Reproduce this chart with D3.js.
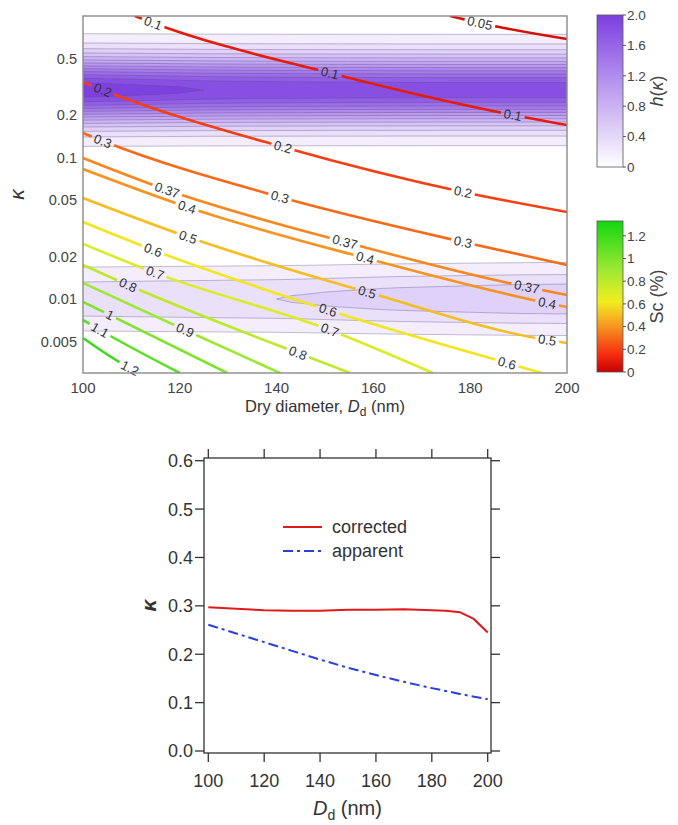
<!DOCTYPE html>
<html><head><meta charset="utf-8">
<script src="https://cdn.jsdelivr.net/npm/d3@7"></script>
<style>body{margin:0;background:#fff} svg{display:block;font-family:"Liberation Sans",Arial,sans-serif}</style>
</head><body><svg id="c" width="678" height="825"></svg>
<script>
// ---------------- DATA ----------------
// Sc contour levels (%) and their lines, [Dd (nm), kappa]
const scLevels = [0.05,0.1,0.2,0.3,0.37,0.4,0.5,0.6,0.7,0.8,0.9,1,1.1,1.2];
const scLabels = ["0.05","0.1","0.2","0.3","0.37","0.4","0.5","0.6","0.7","0.8","0.9","1","1.1","1.2"];
const sc_005 = [[175.8,1.0],[182.0,0.892],[200,0.688]];
const sc_01  = [[110.7,1.0],[114.5,0.892],[151.0,0.3956],[188.8,0.1998],[200,0.1697]];
const sc_02  = [[100,0.3417],[104.1,0.2999],[141.3,0.1187],[178.5,0.0571],[200,0.0412]];
const sc_03  = [[100,0.1490],[104.1,0.1308],[140.7,0.0526],[178.5,0.0253],[200,0.0174]];
const sc_037 = [[100,0.0992],[117.4,0.0589],[154.1,0.0253],[191.7,0.01216],[200,0.01067]];
const sc_04  = [[100,0.0829],[121.5,0.0447],[158.3,0.0195],[195.9,0.00937],[200,0.00878]];
const sc_05  = [[100,0.0517],[121.7,0.0274],[158.7,0.0112],[195.9,0.00513],[200,0.00489]];
const sc_06  = [[100,0.0350],[114.5,0.0222],[150.6,0.00836],[187.6,0.00353],[194.8,0.0030]];
const sc_07  = [[100,0.0245],[114.9,0.0153],[151.0,0.00604],[172.3,0.0030]];
const sc_08  = [[100,0.0174],[109.3,0.01256],[144.4,0.00415],[155.2,0.0030]];
const sc_09  = [[100,0.0130],[121.1,0.00604],[140.7,0.0030]];
const sc_10  = [[100,0.00953],[105.6,0.00770],[129.8,0.0030]];
const sc_11  = [[100,0.00711],[103.5,0.00604],[120.0,0.0030]];
const sc_12  = [[100,0.00530],[109.7,0.00325],[111.8,0.0030]];
const scLines = [sc_005,sc_01,sc_02,sc_03,sc_037,sc_04,sc_05,sc_06,sc_07,sc_08,sc_09,sc_10,sc_11,sc_12];
// Dd at which each line carries its label
const scLabelDd = [[182],[114.5,151,188.8],[104.1,141.3,178.5],[104.1,140.7,178.5],[117.4,154.1,191.7],
  [121.5,158.3,195.9],[121.7,158.7,195.9],[114.5,150.6,187.6],[114.9,151],[109.3,144.4],[121.1],[105.6],[103.5],[109.7]];

// h(kappa) distribution: columns in Dd, peak heights of the two modes per column
const hColDd = [100,105,110,115,120,125,130,135,140,145,150,155,160,165,170,175,180,185,190,195,200];
const upperPeak = [2.0,1.98,1.96,1.94,1.92,1.90,1.89,1.88,1.875,1.87,1.865,1.86,1.86,1.855,1.855,1.85,1.85,1.85,1.85,1.85,1.85];
const lowerPeak = [0.36,0.365,0.37,0.375,0.38,0.385,0.39,0.395,0.40,0.41,0.425,0.44,0.455,0.47,0.48,0.49,0.50,0.51,0.52,0.525,0.53];
// relative shape of each mode, sampled every 0.025 in log10(kappa)
const upperLogK0 = -0.975;
const upperShape = [0.021,0.032,0.047,0.068,0.096,0.132,0.178,0.234,0.301,0.377,0.462,0.553,0.646,0.737,0.821,0.894,0.950,0.986,1.000,
  0.990,0.957,0.904,0.834,0.751,0.661,0.567,0.476,0.390,0.312,0.244,0.186,0.139,0.101,0.072,0.050,0.034,0.022];
const lowerLogK0 = -2.4;
const lowerShape = [0.018,0.029,0.046,0.070,0.104,0.149,0.208,0.280,0.366,0.463,0.568,0.675,0.778,0.868,0.939,0.984,1.000,
  0.984,0.939,0.868,0.778,0.675,0.568,0.463,0.366,0.280,0.208,0.149,0.104,0.070,0.046,0.029,0.018];
const hLevels = [0.1,0.25,0.4,0.55,0.7,0.85,1.0,1.15,1.3,1.45,1.6,1.75,1.9];

// axis ticks
const topYTicks = [0.005,0.01,0.02,0.05,0.1,0.2,0.5];
const topYTickLabels = ["0.005","0.01","0.02","0.05","0.1","0.2","0.5"];
const topXTicks = [100,120,140,160,180,200];
const hBarTicks = [0,0.4,0.8,1.2,1.6,2.0];
const hBarLabels = ["0","0.4","0.8","1.2","1.6","2.0"];
const scBarTicks = [0,0.2,0.4,0.6,0.8,1.0,1.2];
const scBarLabels = ["0","0.2","0.4","0.6","0.8","1","1.2"];

// bottom chart
const correctedDd = [100,110,120,130,140,150,160,170,180,185,190,195,200];
const correctedK  = [0.297,0.294,0.291,0.290,0.290,0.292,0.292,0.293,0.291,0.290,0.287,0.273,0.245];
const apparentDd  = [100,110,120,130,140,150,160,170,180,190,200];
const apparentK   = [0.261,0.243,0.225,0.207,0.189,0.172,0.157,0.143,0.130,0.118,0.107];
const botXTicks = [100,120,140,160,180,200];
const botYTicks = [0,0.1,0.2,0.3,0.4,0.5,0.6];

// ---------------- DRAW ----------------
const svg = d3.select("#c");
const defs = svg.append("defs");

const x1 = d3.scaleLinear().domain([100,200]).range([83,567]);
const y1 = d3.scaleLog().domain([0.003,1]).range([373,16]);

defs.append("clipPath").attr("id","clip1").append("rect")
  .attr("x",x1(100)).attr("y",y1(1)).attr("width",x1(200)-x1(100)).attr("height",y1(0.003)-y1(1));

const hColor = d3.scaleLinear().domain([0,2]).range(["#ffffff","#7c3fe0"]).interpolate(d3.interpolateRgb);
const scStops = [0,0.15,0.4,0.62,0.9,1.33];
const scStopCol = ["#c80000","#f52a10","#f79420","#f2ee1e","#9ee832","#12d612"];
const scColor = d3.scaleLinear().domain(scStops).range(scStopCol).interpolate(d3.interpolateRgb);

// build h grid
const L0 = -2.6, dL = 0.025, nRows = 107, nCols = hColDd.length, dD = 5;
const values = new Array(nCols*nRows).fill(0);
for (let j=0;j<nRows;j++){
  const L = L0 + j*dL;
  const ui = Math.round((L-upperLogK0)/dL), li = Math.round((L-lowerLogK0)/dL);
  for (let i=0;i<nCols;i++){
    let v = 0;
    if (ui>=0 && ui<upperShape.length) v += upperPeak[i]*upperShape[ui];
    if (li>=0 && li<lowerShape.length) v += lowerPeak[i]*lowerShape[li];
    values[i + j*nCols] = v;
  }
}
const contours = d3.contours().size([nCols,nRows]).thresholds(hLevels)(values);
const proj = d3.geoTransform({point:function(gx,gy){
  this.stream.point(x1(hColDd[0] + (gx-0.5)*dD), y1(Math.pow(10, L0 + (gy-0.5)*dL)));
}});
const geo = d3.geoPath().projection(proj);
const gH = svg.append("g").attr("clip-path","url(#clip1)");
gH.selectAll("path").data(contours).join("path")
  .attr("d",geo)
  .attr("fill",d=>hColor(d.value+0.075))
  .attr("stroke","#5b4a86").attr("stroke-opacity",0.6).attr("stroke-width",0.6);

// Sc lines with label gaps
const mask = defs.append("mask").attr("id","lblmask").attr("maskUnits","userSpaceOnUse")
  .attr("x",0).attr("y",0).attr("width",678).attr("height",825);
mask.append("rect").attr("width",678).attr("height",825).attr("fill","#fff");
const gLinesClip = svg.append("g").attr("clip-path","url(#clip1)");
const gLines = gLinesClip.append("g").attr("mask","url(#lblmask)");
const lineGen = d3.line().x(d=>x1(d[0])).y(d=>y1(d[1])).curve(d3.curveMonotoneX);
const paths = scLines.map((pts,k)=> gLines.append("path").attr("d",lineGen(pts))
  .attr("fill","none").attr("stroke",scColor(scLevels[k])).attr("stroke-width",2.6));

const gLbl = svg.append("g").attr("font-size",13).attr("fill","#333");
paths.forEach((p,k)=>{
  const node = p.node(), total = node.getTotalLength();
  scLabelDd[k].forEach(dd=>{
    const tx = x1(dd);
    let lo=0, hi=total;
    for (let it=0;it<40;it++){ const m=(lo+hi)/2; if (node.getPointAtLength(m).x < tx) lo=m; else hi=m; }
    const len=(lo+hi)/2, pt=node.getPointAtLength(len);
    const a=node.getPointAtLength(Math.max(0,len-4)), b=node.getPointAtLength(Math.min(total,len+4));
    const ang = Math.atan2(b.y-a.y,b.x-a.x)*180/Math.PI;
    const t = gLbl.append("text").attr("text-anchor","middle").attr("dy","0.35em")
      .attr("transform",`translate(${pt.x},${pt.y}) rotate(${ang})`).text(scLabels[k]);
    const w = t.node().getComputedTextLength();
    mask.append("rect").attr("x",-w/2-3).attr("y",-6).attr("width",w+6).attr("height",12)
      .attr("fill","#000").attr("transform",`translate(${pt.x},${pt.y}) rotate(${ang})`);
  });
});

// frame
svg.append("rect").attr("x",x1(100)).attr("y",y1(1)).attr("width",x1(200)-x1(100)).attr("height",y1(0.003)-y1(1))
  .attr("fill","none").attr("stroke","#8a8a8a").attr("stroke-width",1.4);

// top axes labels
svg.append("g").selectAll("text").data(topYTicks).join("text")
  .attr("x",77).attr("y",d=>y1(d)).attr("dy","0.36em").attr("text-anchor","end")
  .attr("font-size",14.5).attr("fill","#444").text((d,i)=>topYTickLabels[i]);
svg.append("g").selectAll("text").data(topXTicks).join("text")
  .attr("x",d=>x1(d)).attr("y",393).attr("text-anchor","middle")
  .attr("font-size",15).attr("fill","#444").text(d=>d);
const xt = svg.append("text").attr("x",(x1(100)+x1(200))/2).attr("y",412).attr("text-anchor","middle")
  .attr("font-size",16.5).attr("fill","#333");
xt.append("tspan").text("Dry diameter, ");
xt.append("tspan").attr("font-style","italic").text("D");
xt.append("tspan").attr("font-size",12).attr("dy",4).text("d");
xt.append("tspan").attr("dy",-4).text(" (nm)");
svg.append("text").attr("transform",`translate(24,${(y1(1)+y1(0.003))/2}) rotate(-90)`)
  .attr("text-anchor","middle").attr("font-size",21).attr("font-style","italic").attr("fill","#333").text("κ");

// colorbars
function vGrad(id, stops){
  const g = defs.append("linearGradient").attr("id",id).attr("x1",0).attr("y1",1).attr("x2",0).attr("y2",0);
  stops.forEach(s=>g.append("stop").attr("offset",s[0]).attr("stop-color",s[1]));
}
vGrad("gh",[[0,hColor(0)],[1,hColor(2)]]);
vGrad("gs",scStops.map((v,i)=>[v/1.33,scStopCol[i]]));
const cbX = 597, cbW = 26;
const cbH = d3.scaleLinear().domain([0,2]).range([167,15]);
const cbS = d3.scaleLinear().domain([0,1.33]).range([372,221]);
function colorbar(scale, dom, grad, ticks, labels, title){
  svg.append("rect").attr("x",cbX).attr("y",scale(dom[1])).attr("width",cbW).attr("height",scale(dom[0])-scale(dom[1]))
    .attr("fill",`url(#${grad})`).attr("stroke","#555").attr("stroke-width",0.8);
  const g = svg.append("g");
  g.selectAll("line").data(ticks).join("line").attr("x1",cbX+cbW).attr("x2",cbX+cbW+3)
    .attr("y1",d=>scale(d)).attr("y2",d=>scale(d)).attr("stroke","#555");
  g.selectAll("text").data(ticks).join("text").attr("x",cbX+cbW+4).attr("y",d=>scale(d)).attr("dy","0.36em")
    .attr("font-size",13.5).attr("fill","#444").text((d,i)=>labels[i]);
  const t = svg.append("text").attr("transform",`translate(663,${(scale(dom[0])+scale(dom[1]))/2}) rotate(-90)`)
    .attr("text-anchor","middle").attr("font-size",18).attr("fill","#444");
  title(t);
}
colorbar(cbH,[0,2],"gh",hBarTicks,hBarLabels,t=>{
  t.append("tspan").attr("font-style","italic").text("h");
  t.append("tspan").text("(");
  t.append("tspan").attr("font-style","italic").text("κ");
  t.append("tspan").text(")");
});
colorbar(cbS,[0,1.33],"gs",scBarTicks,scBarLabels,t=>{ t.text("Sc (%)"); });

// ---------------- bottom chart ----------------
const x2 = d3.scaleLinear().domain([100,200]).range([208.3,487.7]);
const y2 = d3.scaleLinear().domain([0,0.6]).range([751,460.7]);
const fL=204, fR=491, fT=458, fB=753, tl=9;
svg.append("rect").attr("x",fL).attr("y",fT).attr("width",fR-fL).attr("height",fB-fT)
  .attr("fill","none").attr("stroke","#333").attr("stroke-width",1.3);
const gt = svg.append("g").attr("stroke","#333").attr("stroke-width",1.3);
botYTicks.forEach(v=>{
  gt.append("line").attr("x1",fL-tl).attr("x2",fL).attr("y1",y2(v)).attr("y2",y2(v));
  gt.append("line").attr("x1",fR).attr("x2",fR+tl).attr("y1",y2(v)).attr("y2",y2(v));
});
botXTicks.forEach(v=>{
  gt.append("line").attr("x1",x2(v)).attr("x2",x2(v)).attr("y1",fT-tl).attr("y2",fT);
  gt.append("line").attr("x1",x2(v)).attr("x2",x2(v)).attr("y1",fB).attr("y2",fB+tl);
});
svg.append("g").selectAll("text").data(botYTicks).join("text")
  .attr("x",193).attr("y",d=>y2(d)).attr("dy","0.36em").attr("text-anchor","end")
  .attr("font-size",18).attr("fill","#333").text(d=>d.toFixed(1));
svg.append("g").selectAll("text").data(botXTicks).join("text")
  .attr("x",d=>x2(d)).attr("y",787).attr("text-anchor","middle")
  .attr("font-size",18).attr("fill","#333").text(d=>d);
const bt = svg.append("text").attr("x",(fL+fR)/2).attr("y",815).attr("text-anchor","middle")
  .attr("font-size",20).attr("fill","#333");
bt.append("tspan").attr("font-style","italic").text("D");
bt.append("tspan").attr("font-size",14).attr("dy",5).text("d");
bt.append("tspan").attr("dy",-5).text(" (nm)");
svg.append("text").attr("transform",`translate(156,${(fT+fB)/2}) rotate(-90)`)
  .attr("text-anchor","middle").attr("font-size",21).attr("font-weight","bold").attr("font-style","italic")
  .attr("fill","#333").text("κ");

const ln2 = d3.line().x(d=>x2(d[0])).y(d=>y2(d[1]));
svg.append("path").attr("d",ln2(apparentDd.map((d,i)=>[d,apparentK[i]])))
  .attr("fill","none").attr("stroke","#2a3fe0").attr("stroke-width",2).attr("stroke-dasharray","10,4,3,4");
svg.append("path").attr("d",ln2(correctedDd.map((d,i)=>[d,correctedK[i]])))
  .attr("fill","none").attr("stroke","#e01a1a").attr("stroke-width",2);
// legend
svg.append("line").attr("x1",283).attr("x2",322).attr("y1",527).attr("y2",527).attr("stroke","#e01a1a").attr("stroke-width",2);
svg.append("line").attr("x1",283).attr("x2",322).attr("y1",551).attr("y2",551).attr("stroke","#2a3fe0").attr("stroke-width",2).attr("stroke-dasharray","10,4,3,4");
svg.append("text").attr("x",332).attr("y",533).attr("font-size",18).attr("fill","#333").text("corrected");
svg.append("text").attr("x",332).attr("y",557).attr("font-size",18).attr("fill","#333").text("apparent");
</script></body></html>
